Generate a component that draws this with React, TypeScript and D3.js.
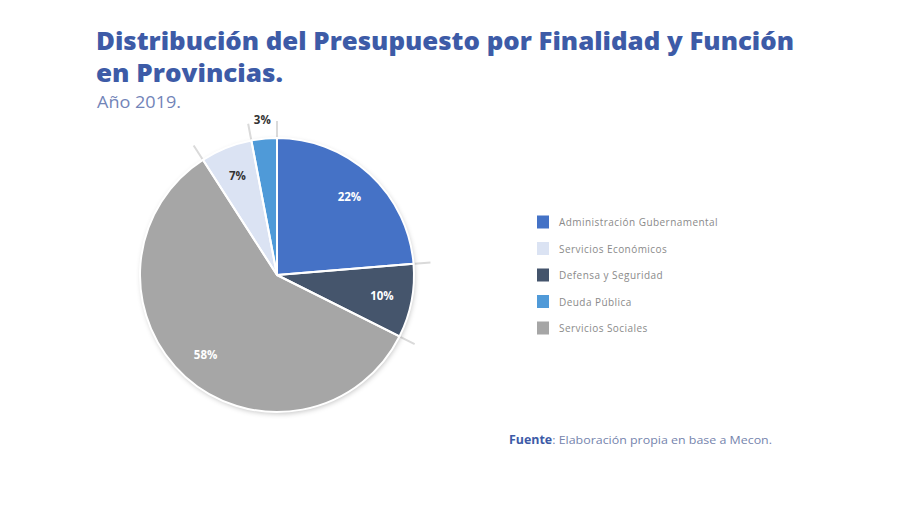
import React from "react";
import * as d3 from "d3";

const categories = [
  "Administración Gubernamental",
  "Defensa y Seguridad",
  "Servicios Sociales",
  "Servicios Económicos",
  "Deuda Pública",
];
// slice sizes (angles), clockwise from 12 o'clock
const values = [23.7, 8.7, 58.5, 6.1, 3.0];
const valueLabels = ["22%", "10%", "58%", "7%", "3%"];
const colors = ["#4472c6", "#44546c", "#a6a6a6", "#dbe3f3", "#509ad8"];
const labelColors = ["#ffffff", "#ffffff", "#ffffff", "#333333", "#333333"];

const legendOrder = [
  "Administración Gubernamental",
  "Servicios Económicos",
  "Defensa y Seguridad",
  "Deuda Pública",
  "Servicios Sociales",
];

const titleLines = [
  "Distribución del Presupuesto por Finalidad y Función",
  "en Provincias.",
];
const subtitle = "Año 2019.";
const sourceBold = "Fuente";
const sourceText = ": Elaboración propia en base a Mecon.";

export default function App() {
  const W = 900;
  const H = 505;
  const cx = 277;
  const cy = 275;
  const r = 137;

  const data = categories.map((c, i) => ({ c, v: values[i], i }));
  const pie = d3
    .pie<any>()
    .sort(null)
    .value((d: any) => d.v)
    .startAngle(0)
    .endAngle(2 * Math.PI);
  const arcs = pie(data);
  const arc = d3.arc<any>().innerRadius(0).outerRadius(r);
  const labelArcIn = d3.arc<any>().innerRadius(r * 0.78).outerRadius(r * 0.78);
  const labelArcOut = d3.arc<any>().innerRadius(r + 19).outerRadius(r + 19);

  const colorOf = (c: string) => colors[categories.indexOf(c)];

  const font = "'Open Sans', 'DejaVu Sans', sans-serif";
  const legendY = d3.scalePoint<string>().domain(legendOrder).range([222, 328]);

  return (
    <svg
      width={W}
      height={H}
      style={{ position: "absolute", left: 0, top: 0, background: "#fff" }}
      fontFamily={font}
    >
      <defs>
        <filter id="sh" x="-20%" y="-20%" width="140%" height="140%">
          <feDropShadow dx="1" dy="2" stdDeviation="2.5" floodColor="#000" floodOpacity="0.22" />
        </filter>
      </defs>
      <rect width={W} height={H} fill="#fff" />
      <text x={96} y={50} fontSize={25} fontWeight={800} fill="#3d5ba7" textLength={698} lengthAdjust="spacingAndGlyphs">
        {titleLines[0]}
      </text>
      <text x={96} y={82} fontSize={25} fontWeight={800} fill="#3d5ba7" textLength={187} lengthAdjust="spacingAndGlyphs">
        {titleLines[1]}
      </text>
      <text x={97} y={108} fontSize={15.5} fill="#7284b8" textLength={84} lengthAdjust="spacingAndGlyphs">
        {subtitle}
      </text>

      {/* boundary shadow lines */}
      <g>
        {arcs.map((a, i) => {
          const ang = a.startAngle;
          const x1 = cx + Math.sin(ang) * (r - 2);
          const y1 = cy - Math.cos(ang) * (r - 2);
          const x2 = cx + Math.sin(ang) * (r + 17);
          const y2 = cy - Math.cos(ang) * (r + 17);
          return <line key={i} x1={x1} y1={y1} x2={x2} y2={y2} stroke="#dadada" strokeWidth={2} />;
        })}
      </g>

      <g transform={`translate(${cx},${cy})`}>
        <g filter="url(#sh)">
          {arcs.map((a, i) => (
            <path key={i} d={arc(a) as string} fill={colors[i]} />
          ))}
        </g>
        {arcs.map((a, i) => (
          <path key={"s" + i} d={arc(a) as string} fill="none" stroke="#ffffff" strokeWidth={2} strokeLinejoin="round" />
        ))}
        {arcs.map((a, i) => {
          const [lx, ly] = (values[i] < 5 ? labelArcOut : labelArcIn).centroid(a);
          return (
            <text
              key={"l" + i}
              x={lx}
              y={ly}
              textAnchor="middle"
              dominantBaseline="central"
              fontSize={11.5}
              fontWeight={700}
              fill={labelColors[i]}
            >
              {valueLabels[i]}
            </text>
          );
        })}
      </g>

      <g>
        {legendOrder.map((c) => (
          <g key={c} transform={`translate(537,${legendY(c)})`}>
            <rect x={0} y={-6.5} width={12} height={13} fill={colorOf(c)} />
            <text x={22} y={0} dominantBaseline="central" fontSize={10} letterSpacing={0.45} fill="#8a8a8a">
              {c}
            </text>
          </g>
        ))}
      </g>

      <text x={509} y={444} fontSize={11.5} fill="#7584ad" textLength={263} lengthAdjust="spacingAndGlyphs">
        <tspan fontWeight={700} fill="#3d5ba7">{sourceBold}</tspan>
        <tspan>{sourceText}</tspan>
      </text>
    </svg>
  );
}
